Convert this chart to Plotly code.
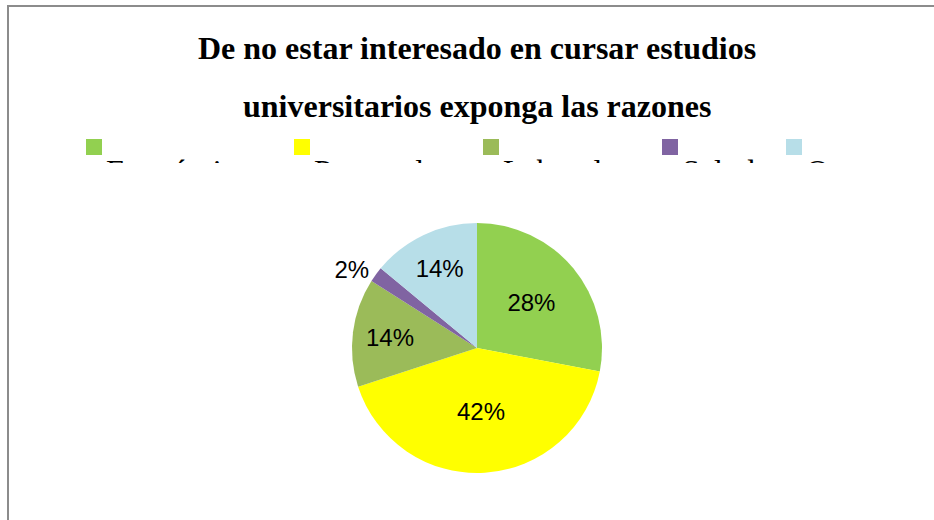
import plotly.graph_objects as go

# ---- data ----
categories = ["Económicas", "Personales", "Laborales", "Salud", "Otros"]
values = [28, 42, 14, 2, 14]
colors = ["#92D050", "#FFFF00", "#9BBB59", "#8064A2", "#B7DEE8"]
title_lines = ["De no estar interesado en cursar estudios",
               "universitarios exponga las razones"]

W, H = 934, 520

fig = go.Figure()

# pie
cx, cy, r = 477, 348, 125
fig.add_trace(go.Pie(
    labels=categories, values=values, sort=False, direction="clockwise",
    rotation=0,
    marker=dict(colors=colors, line=dict(width=0)),
    texttemplate="%{percent:.0%}",
    textposition=["inside", "inside", "inside", "outside", "inside"],
    insidetextorientation="horizontal",
    textfont=dict(family="Liberation Sans, Arial", size=24, color="black"),
    outsidetextfont=dict(family="Liberation Sans, Arial", size=24, color="black"),
    showlegend=False, hoverinfo="label+percent",
    domain=dict(x=[(cx - r) / W, (cx + r) / W],
                y=[(H - cy - r) / H, (H - cy + r) / H]),
))

# legend (custom, text clipped at the bottom like the reference)
leg_x = [94, 302, 491, 670, 794]
clip_bottom = 163
fig.add_trace(go.Scatter(
    x=leg_x, y=[147] * len(categories), mode="markers",
    marker=dict(symbol="square", size=16, color=colors, line=dict(width=0)),
    showlegend=False, hoverinfo="skip", cliponaxis=True,
))
fig.add_trace(go.Scatter(
    x=[v + 12 for v in leg_x], y=[158] * len(categories), mode="text",
    text=categories, textposition="bottom right",
    textfont=dict(family="Liberation Serif, Times New Roman", size=32, color="black"),
    showlegend=False, hoverinfo="skip", cliponaxis=True,
))

fig.update_xaxes(range=[0, W], visible=False, domain=[0, 1], fixedrange=True)
fig.update_yaxes(range=[clip_bottom, 0], visible=False,
                 domain=[1 - clip_bottom / H, 1], fixedrange=True)

# title
for i, (line, ypx) in enumerate(zip(title_lines, [48, 106])):
    fig.add_annotation(
        text=f"<b>{line}</b>", xref="paper", yref="paper",
        x=477 / W, y=1 - ypx / H, xanchor="center", yanchor="middle",
        showarrow=False,
        font=dict(family="Liberation Serif, Times New Roman", size=32, color="black"),
    )

# frame border (only top and left edges are visible in the reference)
frame = dict(color="#8C8C8C", width=2)
fig.add_shape(type="line", xref="paper", yref="paper",
              x0=7 / W, y0=1 - 6 / H, x1=1, y1=1 - 6 / H, line=frame, layer="above")
fig.add_shape(type="line", xref="paper", yref="paper",
              x0=8 / W, y0=1 - 6 / H, x1=8 / W, y1=0, line=frame, layer="above")

fig.update_layout(
    width=W, height=H, margin=dict(l=0, r=0, t=0, b=0),
    paper_bgcolor="white", plot_bgcolor="rgba(0,0,0,0)",
)

fig.write_html("out.html", config={"displayModeBar": False},
               post_script="document.body.style.margin='0';document.body.style.overflow='hidden';")
